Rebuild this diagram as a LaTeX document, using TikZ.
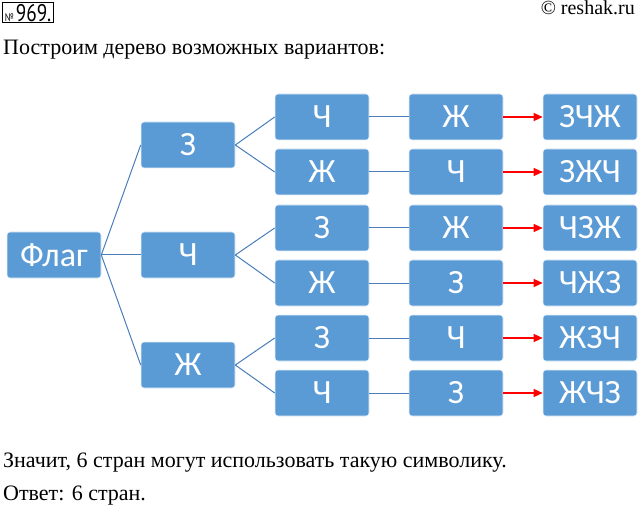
\documentclass[tikz,border=0pt]{standalone}
\usepackage{fontspec}
\setmainfont{Liberation Serif}
\newfontfamily\serifont{Liberation Serif}
\newfontfamily\boxfont{Carlito}
\newfontfamily\numfont[FakeStretch=0.8]{PT Sans}
\usetikzlibrary{arrows.meta}
\definecolor{boxblue}{HTML}{5B9BD5}
\definecolor{linkblue}{HTML}{4A7EBB}
\begin{document}
\begin{tikzpicture}[
    x=1pt, y=-1pt,
    leaf/.style={rectangle, rounded corners=3pt, draw=white!85!boxblue, line width=0.6pt, fill=boxblue,
                 minimum width=94pt, minimum height=46pt, inner sep=0pt,
                 text=white, font=\boxfont\fontsize{34}{34}\selectfont},
    link/.style={draw=linkblue, line width=1pt},
    result/.style={-{Triangle[length=9pt, width=8pt]}, draw=red, line width=1.2pt},
    caption/.style={anchor=base west, inner sep=0pt, font=\serifont\fontsize{22}{26}\selectfont}
]
\useasboundingbox (0,0) rectangle (638,508);

% Header
\node[draw, line width=1pt, inner xsep=2.5pt, inner ysep=1.5pt, anchor=north west] (num) at (2,2)
    {\numfont\fontsize{11}{12}\selectfont №\,\fontsize{24}{24}\selectfont 969.};
\node[anchor=base east, inner sep=0pt, font=\serifont\fontsize{20}{22}\selectfont] (site) at (635,15) {© reshak.ru};
\node[caption] (intro) at (3,55) {Построим дерево возможных вариантов:};

% Root
\node[leaf] (flag) at (54,255) {Флаг};

% First letter
\node[leaf] (z) at (188,145) {З};
\node[leaf] (ch) at (188,255) {Ч};
\node[leaf] (zh) at (188,365) {Ж};

% Second letter
\node[leaf] (zch) at (322,117) {Ч};
\node[leaf] (zzh) at (322,172) {Ж};
\node[leaf] (chz) at (322,228) {З};
\node[leaf] (chzh) at (322,283) {Ж};
\node[leaf] (zhz) at (322,338) {З};
\node[leaf] (zhch) at (322,393) {Ч};

% Third letter
\node[leaf] (zchzh) at (456,117) {Ж};
\node[leaf] (zzhch) at (456,172) {Ч};
\node[leaf] (chzzh) at (456,228) {Ж};
\node[leaf] (chzhz) at (456,283) {З};
\node[leaf] (zhzch) at (456,338) {Ч};
\node[leaf] (zhchz) at (456,393) {З};

% Flags
\node[leaf] (r1) at (590,117) {ЗЧЖ};
\node[leaf] (r2) at (590,172) {ЗЖЧ};
\node[leaf] (r3) at (590,228) {ЧЗЖ};
\node[leaf] (r4) at (590,283) {ЧЖЗ};
\node[leaf] (r5) at (590,338) {ЖЗЧ};
\node[leaf] (r6) at (590,393) {ЖЧЗ};

% Tree links
\draw[link] (flag.east) -- (z.west);
\draw[link] (flag.east) -- (ch.west);
\draw[link] (flag.east) -- (zh.west);

\draw[link] (z.east) -- (zch.west);
\draw[link] (z.east) -- (zzh.west);
\draw[link] (ch.east) -- (chz.west);
\draw[link] (ch.east) -- (chzh.west);
\draw[link] (zh.east) -- (zhz.west);
\draw[link] (zh.east) -- (zhch.west);

\draw[link] (zch) -- (zchzh);
\draw[link] (zzh) -- (zzhch);
\draw[link] (chz) -- (chzzh);
\draw[link] (chzh) -- (chzhz);
\draw[link] (zhz) -- (zhzch);
\draw[link] (zhch) -- (zhchz);

% Arrows to the flags
\draw[result] (zchzh) -- (r1);
\draw[result] (zzhch) -- (r2);
\draw[result] (chzzh) -- (r3);
\draw[result] (chzhz) -- (r4);
\draw[result] (zhzch) -- (r5);
\draw[result] (zhchz) -- (r6);

% Conclusion
\node[caption] (sum) at (3,467) {Значит, 6 стран могут использовать такую символику.};
\node[caption] (answer) at (3,500) {Ответ: 6 стран.};

\end{tikzpicture}
\end{document}
